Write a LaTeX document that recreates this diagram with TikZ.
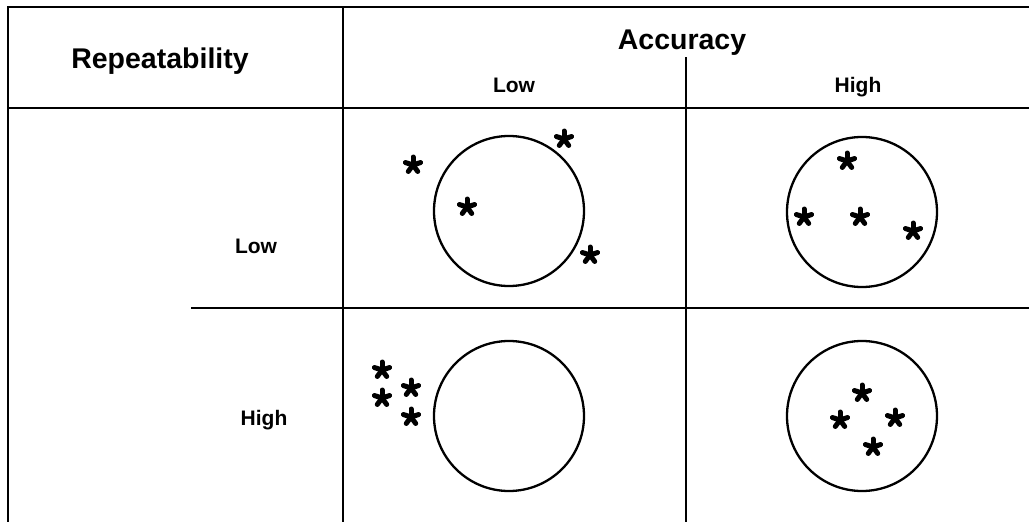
\documentclass[tikz,border=0pt]{standalone}
\usepackage{fontspec}
\setmainfont{Liberation Sans}
\tikzset{
  rule/.style={line width=2.2pt},
  ring/.style={draw, circle, line width=2.3pt, minimum size=150pt, inner sep=0pt},
  headbig/.style={font=\fontsize{28.5}{30}\selectfont\bfseries, inner sep=0pt, anchor=base},
  headsmall/.style={font=\fontsize{21}{24}\selectfont\bfseries, inner sep=0pt, anchor=base},
  hit/.pic={\foreach \a in {270,342,54,126,198} \draw[line width=5pt, line cap=round] (0,0) -- (\a:8);}
}
\begin{document}
\begin{tikzpicture}[x=1pt, y=-1pt]
\useasboundingbox (0,0) rectangle (1029,522);

% table rules
\draw[rule] (1029,7) -- (8,7) -- (8,522);
\draw[rule] (8,108) -- (1029,108);
\draw[rule] (343,7) -- (343,522);
\draw[rule] (686,57) -- (686,522);
\draw[rule] (191,308) -- (1029,308);

% headings
\node[headbig] (rep) at (160,68) {Repeatability};
\node[headbig] (acc) at (682,49) {Accuracy};
\node[headsmall] (alow) at (514,92) {Low};
\node[headsmall] (ahigh) at (858,92) {High};
\node[headsmall] (rlow) at (256,253) {Low};
\node[headsmall] (rhigh) at (264,425) {High};

% targets
\node[ring] (ll) at (509,211) {};
\node[ring] (lh) at (862,212) {};
\node[ring] (hl) at (509,416) {};
\node[ring] (hh) at (862,416) {};

% hits: low repeatability, low accuracy
\pic at (413,165) {hit};
\pic at (467,207) {hit};
\pic at (564,139) {hit};
\pic at (590,255) {hit};
% low repeatability, high accuracy
\pic at (847,161) {hit};
\pic at (804,217) {hit};
\pic at (860,217) {hit};
\pic at (913,231) {hit};
% high repeatability, low accuracy
\pic at (382,370) {hit};
\pic at (382,398) {hit};
\pic at (411,388) {hit};
\pic at (411,417) {hit};
% high repeatability, high accuracy
\pic at (862,393) {hit};
\pic at (840,420) {hit};
\pic at (895,418) {hit};
\pic at (873,447) {hit};
\end{tikzpicture}
\end{document}
